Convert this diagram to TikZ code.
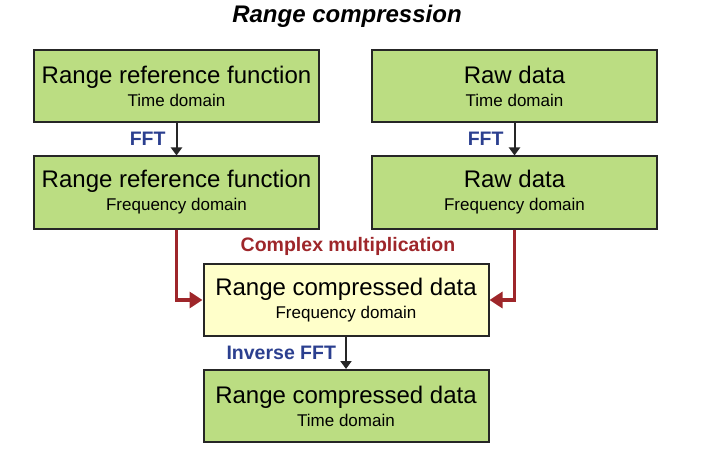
\documentclass[tikz,border=0pt]{standalone}
\usepackage{fontspec}
\setmainfont{Liberation Sans}
\usetikzlibrary{arrows.meta}
\definecolor{boxgreen}{RGB}{187,221,130}
\definecolor{boxyellow}{RGB}{255,255,202}
\definecolor{fftblue}{RGB}{43,63,143}
\definecolor{multred}{RGB}{158,38,42}

\begin{document}
\begin{tikzpicture}[x=1pt,y=-1pt,
    stage/.style={draw=black!85,line width=2pt,fill=boxgreen,minimum width=285pt,minimum height=72pt,
        inner sep=0pt,align=center,font=\fontsize{24}{23}\selectfont},
    result/.style={stage,fill=boxyellow},
    flow/.style={draw=black!85,line width=2pt,-{Triangle[length=8pt,width=11pt]}},
    merge/.style={draw=multred,line width=3.5pt,-{Triangle[length=13pt,width=16pt]}},
    opname/.style={inner sep=0pt,font=\fontsize{19.5}{20}\bfseries}]
    \useasboundingbox (0,0) rectangle (703,457);
    \node (title) at (347,16) [font=\fontsize{24}{24}\bfseries\itshape] {Range compression};
    % spectra of the reference and of the raw data
    \node (refTime) at (176.5,86) [stage] {Range reference function\\{\fontsize{17}{17}\selectfont Time domain}};
    \node (rawTime) at (514.5,86) [stage] {Raw data\\{\fontsize{17}{17}\selectfont Time domain}};
    \node (refFreq) at (176.5,192.5) [stage] {Range reference function\\{\fontsize{17}{17}\selectfont Frequency domain}};
    \node (rawFreq) at (514.5,192.5) [stage] {Raw data\\{\fontsize{17}{17}\selectfont Frequency domain}};
    \draw[flow] (refTime) -- (refFreq) node[midway,left=10pt,opname,text=fftblue] {FFT};
    \draw[flow] (rawTime) -- (rawFreq) node[midway,left=10pt,opname,text=fftblue] {FFT};
    % product in the frequency domain
    \node (cmpFreq) at (346,300) [result] {Range compressed data\\{\fontsize{17}{17}\selectfont Frequency domain}};
    \node (cmul) at (348,246) [opname,text=multred] {Complex multiplication};
    \draw[merge] (refFreq.south) |- (cmpFreq.west);
    \draw[merge] (rawFreq.south) |- (cmpFreq.east);
    % back to time
    \node (cmpTime) at (346,406) [stage] {Range compressed data\\{\fontsize{17}{17}\selectfont Time domain}};
    \draw[flow] (cmpFreq) -- (cmpTime) node[midway,left=9pt,opname,text=fftblue] {Inverse FFT};
\end{tikzpicture}
\end{document}
